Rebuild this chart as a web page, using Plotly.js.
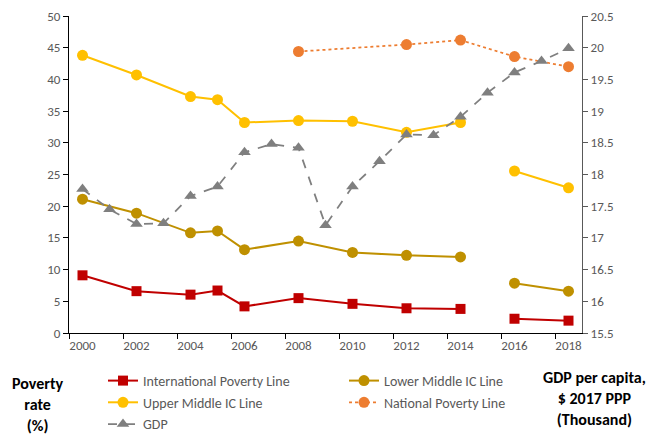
<!DOCTYPE html>
<html>
<head>
<meta charset="utf-8">
<script src="https://cdn.plot.ly/plotly-3.0.1.min.js"></script>
<style>html,body{margin:0;padding:0;background:#fff;}#chart{width:649px;height:434px;}</style>
</head>
<body>
<div id="chart"></div>
<script>
// Survey years (null at 2015 breaks the line between 2014 and 2016)
var povYears = [2000, 2002, 2004, 2005, 2006, 2008, 2010, 2012, 2014, 2015, 2016, 2018];
var intlPoverty = [9.1, 6.6, 6.05, 6.7, 4.2, 5.5, 4.6, 3.9, 3.8, null, 2.25, 1.95];
var lowerMiddle = [21.1, 18.9, 15.8, 16.1, 13.15, 14.5, 12.7, 12.25, 12.0, null, 7.85, 6.6];
var upperMiddle = [43.8, 40.7, 37.3, 36.8, 33.2, 33.5, 33.4, 31.65, 33.2, null, 25.55, 22.9];
var natYears = [2008, 2012, 2014, 2016, 2018];
var natPoverty = [44.4, 45.5, 46.2, 43.6, 42.0];
var gdpYears = [2000, 2001, 2002, 2003, 2004, 2005, 2006, 2007, 2008, 2009, 2010, 2011, 2012, 2013, 2014, 2015, 2016, 2017, 2018];
var gdp = [17.77, 17.45, 17.22, 17.23, 17.66, 17.81, 18.35, 18.48, 18.42, 17.2, 17.81, 18.21, 18.63, 18.62, 18.91, 19.29, 19.61, 19.79, 19.99];
var xTickLabels = [2000, 2002, 2004, 2006, 2008, 2010, 2012, 2014, 2016, 2018];

var FONT = 'Carlito, Lato, "Liberation Sans", sans-serif';
var GREY = '#595959';

var traces = [
  {x: povYears, y: intlPoverty, name: 'International Poverty Line', type: 'scatter', mode: 'lines+markers',
   line: {color: '#C00000', width: 2}, marker: {symbol: 'square', size: 10, color: '#C00000'},
   legend: 'legend', legendgroup: 'a', legendrank: 1},
  {x: povYears, y: lowerMiddle, name: 'Lower Middle IC Line', type: 'scatter', mode: 'lines+markers',
   line: {color: '#BF9000', width: 2}, marker: {symbol: 'circle', size: 11, color: '#BF9000'},
   legend: 'legend2', legendgroup: 'b', legendrank: 1},
  {x: povYears, y: upperMiddle, name: 'Upper Middle IC Line', type: 'scatter', mode: 'lines+markers',
   line: {color: '#FFC000', width: 2}, marker: {symbol: 'circle', size: 11, color: '#FFC000'},
   legend: 'legend', legendgroup: 'c', legendrank: 2},
  {x: natYears, y: natPoverty, name: 'National Poverty Line', type: 'scatter', mode: 'lines+markers',
   line: {color: '#ED7D31', width: 1.75, dash: 'dot'}, marker: {symbol: 'circle', size: 11, color: '#ED7D31'},
   legend: 'legend2', legendgroup: 'd', legendrank: 2},
  {x: gdpYears, y: gdp, name: 'GDP', type: 'scatter', mode: 'lines+markers', yaxis: 'y2',
   line: {color: '#7F7F7F', width: 1.75, dash: 'dash'}, marker: {symbol: 'triangle-up', size: 11, color: '#7F7F7F'},
   legend: 'legend', legendgroup: 'e', legendrank: 3}
];

var legendCommon = {
  orientation: 'v', xanchor: 'left', yanchor: 'top', xref: 'container', yref: 'container',
  bgcolor: 'rgba(0,0,0,0)',
  font: {family: FONT, size: 14, color: GREY}, tracegroupgap: 0.5, itemwidth: 30
};

var layout = {
  width: 649, height: 434,
  margin: {l: 69, r: 67, t: 16, b: 101, autoexpand: false},
  paper_bgcolor: '#fff', plot_bgcolor: '#fff',
  font: {family: FONT, size: 13, color: GREY},
  showlegend: true,
  xaxis: {
    range: [1999.5, 2018.5], tickmode: 'array', tickvals: xTickLabels, ticks: '',
    showline: true, linecolor: '#000', linewidth: 1, showgrid: false, zeroline: false,
    tickfont: {family: FONT, size: 13, color: GREY},
    minor: {tickmode: 'linear', tick0: 1999.5, dtick: 2, ticks: 'outside', ticklen: 5, tickcolor: '#000', tickwidth: 1, showgrid: false}
  },
  yaxis: {
    range: [0, 50], dtick: 5, tick0: 0, ticks: 'outside', ticklen: 5, tickcolor: '#000',
    showline: true, linecolor: '#000', linewidth: 1, showgrid: false, zeroline: false,
    tickfont: {family: FONT, size: 13, color: GREY}
  },
  yaxis2: {
    overlaying: 'y', side: 'right', range: [15.5, 20.5], dtick: 0.5, tick0: 15.5,
    ticks: 'outside', ticklen: 5, tickcolor: '#595959',
    showline: true, linecolor: '#595959', linewidth: 1, showgrid: false, zeroline: false,
    tickfont: {family: FONT, size: 13, color: GREY}
  },
  legend: Object.assign({}, legendCommon, {x: 103 / 649, y: 69 / 434}),
  legend2: Object.assign({}, legendCommon, {x: 344 / 649, y: 69 / 434}),
  annotations: [
    {xref: 'paper', yref: 'paper', x: -0.06, y: -0.225, xanchor: 'center', yanchor: 'middle',
     text: '<b>Poverty<br>rate<br>(%)</b>', showarrow: false, align: 'center',
     font: {family: FONT, size: 16, color: '#000'}},
    {xref: 'paper', yref: 'paper', x: 1.025, y: -0.207, xanchor: 'center', yanchor: 'middle',
     text: '<b>GDP per capita,<br>$ 2017 PPP<br>(Thousand)</b>', showarrow: false, align: 'center',
     font: {family: FONT, size: 16, color: '#000'}}
  ]
};

Plotly.newPlot('chart', traces, layout, {displayModeBar: false, staticPlot: true});
</script>
</body>
</html>
